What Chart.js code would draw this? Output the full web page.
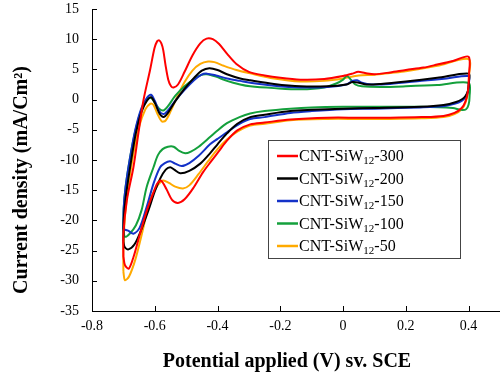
<!DOCTYPE html>
<html>
<head>
<meta charset="utf-8">
<script src="https://cdn.jsdelivr.net/npm/chart.js@4/dist/chart.umd.min.js"></script>
<style>
  body { margin: 0; background: #fff; }
  #chart { display: block; }
</style>
</head>
<body>
<canvas id="chart" width="500" height="376"></canvas>
<script>
// loadings of the composite (legend names)
const loadings = ['300', '200', '150', '100', '50'];
const seriesColors = ['#ff0000', '#000000', '#1432c8', '#14a03c', '#ffaa00'];

// each loop: [potential V, current mA/cm2], anodic sweep then cathodic sweep
const cnt300 = [
    [-0.700,-26.0],[-0.700,-22.2],[-0.689,-16.7],[-0.668,-11.2],[-0.652,-5.5],[-0.636,-0.1],
    [-0.615,4.9],[-0.601,8.5],[-0.593,9.6],[-0.586,9.8],[-0.579,9.3],[-0.573,8.2],[-0.566,5.8],
    [-0.557,3.3],[-0.548,2.2],[-0.540,2.0],[-0.526,2.5],[-0.505,4.6],[-0.480,7.3],[-0.455,9.3],
    [-0.435,10.1],[-0.415,10.0],[-0.395,9.2],[-0.370,7.6],[-0.340,5.9],[-0.300,4.6],[-0.250,4.0],
    [-0.200,3.6],[-0.136,3.3],[-0.060,3.4],[0.000,3.9],[0.030,4.3],[0.048,4.6],[0.070,4.4],
    [0.100,4.2],[0.150,4.5],[0.200,4.9],[0.256,5.3],[0.300,5.8],[0.350,6.4],[0.400,7.1],
    [0.401,4.0],[0.398,1.5],[0.390,-0.3],[0.378,-1.4],[0.355,-2.2],[0.320,-2.7],[0.250,-2.9],
    [0.150,-3.0],[0.050,-3.0],[-0.050,-3.0],[-0.168,-3.3],[-0.250,-3.8],[-0.296,-4.1],
    [-0.337,-5.1],[-0.370,-6.8],[-0.395,-8.5],[-0.420,-10.2],[-0.446,-12.0],[-0.478,-14.7],
    [-0.505,-16.5],[-0.526,-17.1],[-0.545,-16.6],[-0.563,-14.8],[-0.580,-13.4],[-0.592,-13.9],
    [-0.605,-15.5],[-0.626,-18.5],[-0.647,-22.2],[-0.668,-26.1],[-0.683,-28.0],[-0.695,-27.4],
    [-0.700,-26.0]
];
const cnt200 = [
    [-0.700,-23.5],[-0.699,-20.0],[-0.692,-16.0],[-0.678,-11.0],[-0.660,-5.5],[-0.642,-2.0],
    [-0.625,-0.2],[-0.612,0.4],[-0.600,-0.5],[-0.585,-2.3],[-0.572,-2.9],[-0.558,-2.2],
    [-0.535,-0.3],[-0.505,1.8],[-0.475,3.6],[-0.450,4.8],[-0.426,5.2],[-0.400,4.9],[-0.370,4.2],
    [-0.328,3.5],[-0.296,3.2],[-0.220,2.6],[-0.136,2.2],[-0.050,2.2],[0.010,2.5],[0.030,2.9],
    [0.050,2.8],[0.075,2.5],[0.120,2.6],[0.200,3.0],[0.300,3.6],[0.400,4.3],
    [0.401,3.0],[0.398,1.5],[0.390,0.6],[0.380,0.1],[0.360,-0.4],[0.320,-0.9],[0.246,-1.2],
    [0.100,-1.4],[0.000,-1.5],[-0.100,-1.7],[-0.168,-1.9],[-0.250,-2.5],[-0.296,-2.9],
    [-0.337,-4.0],[-0.370,-5.6],[-0.400,-7.4],[-0.424,-8.9],[-0.455,-10.6],[-0.490,-11.8],
    [-0.519,-12.2],[-0.538,-11.6],[-0.551,-11.2],[-0.565,-11.6],[-0.582,-13.0],[-0.600,-15.2],
    [-0.620,-18.3],[-0.645,-21.8],[-0.665,-24.0],[-0.684,-24.8],[-0.696,-24.4],[-0.700,-23.5]
];
const cnt150 = [
    [-0.700,-21.5],[-0.699,-18.0],[-0.693,-14.5],[-0.680,-10.0],[-0.662,-5.0],[-0.643,-1.5],
    [-0.625,0.3],[-0.612,0.8],[-0.600,-0.2],[-0.586,-1.9],[-0.572,-2.4],[-0.558,-1.8],
    [-0.535,-0.2],[-0.505,1.6],[-0.475,3.2],[-0.452,4.1],[-0.434,4.3],[-0.405,4.0],[-0.370,3.5],
    [-0.328,3.1],[-0.296,2.8],[-0.220,2.3],[-0.136,2.0],[-0.050,2.1],[0.010,2.5],[0.030,3.1],
    [0.045,3.2],[0.060,2.8],[0.090,2.5],[0.150,2.6],[0.250,3.1],[0.330,3.5],[0.400,3.9],
    [0.401,2.8],[0.398,1.3],[0.390,0.4],[0.378,-0.2],[0.355,-0.7],[0.320,-1.1],[0.246,-1.3],
    [0.100,-1.5],[0.000,-1.6],[-0.100,-1.9],[-0.168,-2.2],[-0.250,-2.9],[-0.296,-3.2],
    [-0.330,-4.0],[-0.370,-5.4],[-0.400,-6.5],[-0.424,-7.4],[-0.460,-9.3],[-0.490,-10.5],
    [-0.514,-11.0],[-0.535,-10.6],[-0.551,-10.2],[-0.568,-10.5],[-0.583,-11.2],[-0.604,-13.9],
    [-0.626,-17.8],[-0.648,-21.2],[-0.668,-22.2],[-0.685,-21.7],[-0.700,-21.5]
];
const cnt100 = [
    [-0.700,-21.5],[-0.699,-18.0],[-0.693,-14.5],[-0.680,-10.0],[-0.662,-5.2],[-0.643,-1.8],
    [-0.625,-0.1],[-0.612,0.3],[-0.600,-0.5],[-0.586,-1.5],[-0.572,-1.8],[-0.558,-1.1],
    [-0.535,0.6],[-0.505,2.2],[-0.475,3.4],[-0.452,4.1],[-0.434,4.2],[-0.405,3.8],[-0.370,3.1],
    [-0.328,2.5],[-0.296,2.2],[-0.220,1.9],[-0.136,1.7],[-0.060,2.0],[-0.020,2.7],[0.000,3.3],
    [0.012,3.9],[0.025,3.3],[0.039,2.5],[0.060,2.2],[0.120,2.1],[0.200,2.2],[0.300,2.4],
    [0.400,2.75],
    [0.403,0.5],[0.400,-0.8],[0.392,-1.6],[0.375,-1.7],[0.350,-1.4],[0.246,-1.2],[0.100,-1.2],
    [0.000,-1.2],[-0.100,-1.3],[-0.168,-1.5],[-0.250,-1.9],[-0.296,-2.3],[-0.330,-2.9],
    [-0.370,-3.9],[-0.400,-5.1],[-0.424,-6.2],[-0.460,-7.8],[-0.485,-8.6],[-0.503,-8.9],
    [-0.522,-8.5],[-0.540,-7.8],[-0.558,-7.8],[-0.575,-8.2],[-0.590,-9.2],[-0.604,-11.2],
    [-0.626,-14.5],[-0.642,-18.3],[-0.660,-20.8],[-0.680,-22.2],[-0.695,-22.7],[-0.700,-21.5]
];
const cnt50 = [
    [-0.700,-28.5],[-0.700,-25.0],[-0.696,-20.0],[-0.686,-15.0],[-0.670,-9.5],[-0.650,-4.5],
    [-0.630,-1.6],[-0.615,-0.7],[-0.605,-0.8],[-0.592,-2.3],[-0.578,-3.6],[-0.566,-3.5],
    [-0.550,-2.0],[-0.530,0.3],[-0.505,2.9],[-0.480,4.8],[-0.455,5.9],[-0.430,6.3],[-0.410,6.2],
    [-0.380,5.6],[-0.340,4.9],[-0.300,4.4],[-0.220,3.5],[-0.136,3.0],[-0.060,3.1],[0.000,3.5],
    [0.050,4.0],[0.100,4.1],[0.150,4.4],[0.200,4.7],[0.300,5.6],[0.400,6.7],
    [0.401,3.8],[0.398,1.2],[0.390,-0.5],[0.378,-1.6],[0.355,-2.4],[0.320,-2.9],[0.250,-3.1],
    [0.150,-3.2],[0.050,-3.2],[-0.050,-3.2],[-0.168,-3.4],[-0.250,-4.0],[-0.296,-4.3],
    [-0.337,-5.3],[-0.370,-6.6],[-0.400,-8.2],[-0.430,-10.2],[-0.460,-12.3],[-0.490,-14.2],
    [-0.510,-14.7],[-0.535,-14.4],[-0.555,-13.8],[-0.573,-13.4],[-0.588,-14.0],[-0.603,-15.3],
    [-0.617,-16.9],[-0.640,-22.0],[-0.662,-26.5],[-0.682,-29.3],[-0.695,-29.9],[-0.700,-28.5]
];
const loops = [cnt300, cnt200, cnt150, cnt100, cnt50];

const serif = "'Liberation Serif', 'Times New Roman', serif";

// ticks inside the axes, axis titles and the boxed legend
const decorations = {
    id: 'decorations',
    afterDraw(chart) {
        const ctx = chart.ctx;
        const area = chart.chartArea;
        const xs = chart.scales.x, ys = chart.scales.y;
        ctx.save();

        ctx.strokeStyle = '#000';
        ctx.lineWidth = 1;
        ctx.beginPath();
        xs.ticks.forEach(t => {
            const px = Math.round(xs.getPixelForValue(t.value)) + 0.5;
            ctx.moveTo(px, area.bottom);
            ctx.lineTo(px, area.bottom - 5);
        });
        ys.ticks.forEach(t => {
            const py = Math.round(ys.getPixelForValue(t.value)) + 0.5;
            ctx.moveTo(area.left, py);
            ctx.lineTo(area.left + 5, py);
        });
        ctx.stroke();

        // axis titles
        ctx.fillStyle = '#000';
        ctx.font = 'bold 20px ' + serif;
        ctx.textAlign = 'center';
        ctx.textBaseline = 'alphabetic';
        ctx.fillText('Potential applied (V) sv. SCE', 287, 367);
        ctx.save();
        ctx.translate(27, 180);
        ctx.rotate(-Math.PI / 2);
        ctx.fillText('Current density (mA/Cm²)', 0, 0);
        ctx.restore();

        // legend
        const bx = 268, by = 140, bw = 192, bh = 118;
        ctx.fillStyle = '#fff';
        ctx.fillRect(bx, by, bw, bh);
        ctx.strokeStyle = '#444';
        ctx.lineWidth = 1;
        ctx.strokeRect(bx + 0.5, by + 0.5, bw, bh);
        ctx.textAlign = 'left';
        loadings.forEach((name, i) => {
            const cy = 156 + i * 22.5;
            ctx.strokeStyle = seriesColors[i];
            ctx.lineWidth = 2.5;
            ctx.beginPath();
            ctx.moveTo(277, cy);
            ctx.lineTo(298, cy);
            ctx.stroke();
            ctx.fillStyle = '#000';
            let x = 299;
            ctx.font = '16px ' + serif;
            ctx.fillText('CNT-SiW', x, cy + 5);
            x += ctx.measureText('CNT-SiW').width;
            ctx.font = '11px ' + serif;
            ctx.fillText('12', x, cy + 8);
            x += ctx.measureText('12').width;
            ctx.font = '16px ' + serif;
            ctx.fillText('-' + name, x, cy + 5);
        });
        ctx.restore();
    }
};

const datasets = loops.map((pts, i) => ({
    label: 'CNT-SiW₁₂-' + loadings[i],
    data: pts.map(p => ({ x: p[0], y: p[1] })),
    showLine: true,
    borderColor: seriesColors[i],
    backgroundColor: seriesColors[i],
    borderWidth: 2,
    pointRadius: 0,
    tension: 0.3,
    fill: false
}));

new Chart(document.getElementById('chart'), {
    type: 'scatter',
    data: { datasets: datasets },
    options: {
        responsive: false,
        animation: false,
        devicePixelRatio: 1,
        layout: { padding: { top: 9, right: 0, left: 0, bottom: 0 } },
        plugins: {
            legend: { display: false },
            tooltip: { enabled: false }
        },
        scales: {
            x: {
                type: 'linear',
                min: -0.8,
                max: 0.5,
                afterFit: s => { s.height = 65; s.paddingLeft = 0; s.paddingRight = 0; },
                border: { color: '#000', width: 1 },
                grid: { drawOnChartArea: false, drawTicks: false },
                ticks: {
                    stepSize: 0.2,
                    includeBounds: false,
                    padding: 7,
                    color: '#000',
                    font: { family: serif, size: 14 },
                    maxRotation: 0,
                    callback: v => String(Math.round(v * 10) / 10)
                }
            },
            y: {
                type: 'linear',
                min: -35,
                max: 15,
                afterFit: s => { s.width = 92; s.paddingTop = 0; s.paddingBottom = 0; },
                border: { color: '#000', width: 1 },
                grid: { drawOnChartArea: false, drawTicks: false },
                ticks: {
                    stepSize: 5,
                    padding: 13,
                    color: '#000',
                    font: { family: serif, size: 14 }
                }
            }
        }
    },
    plugins: [decorations]
});
</script>
</body>
</html>
